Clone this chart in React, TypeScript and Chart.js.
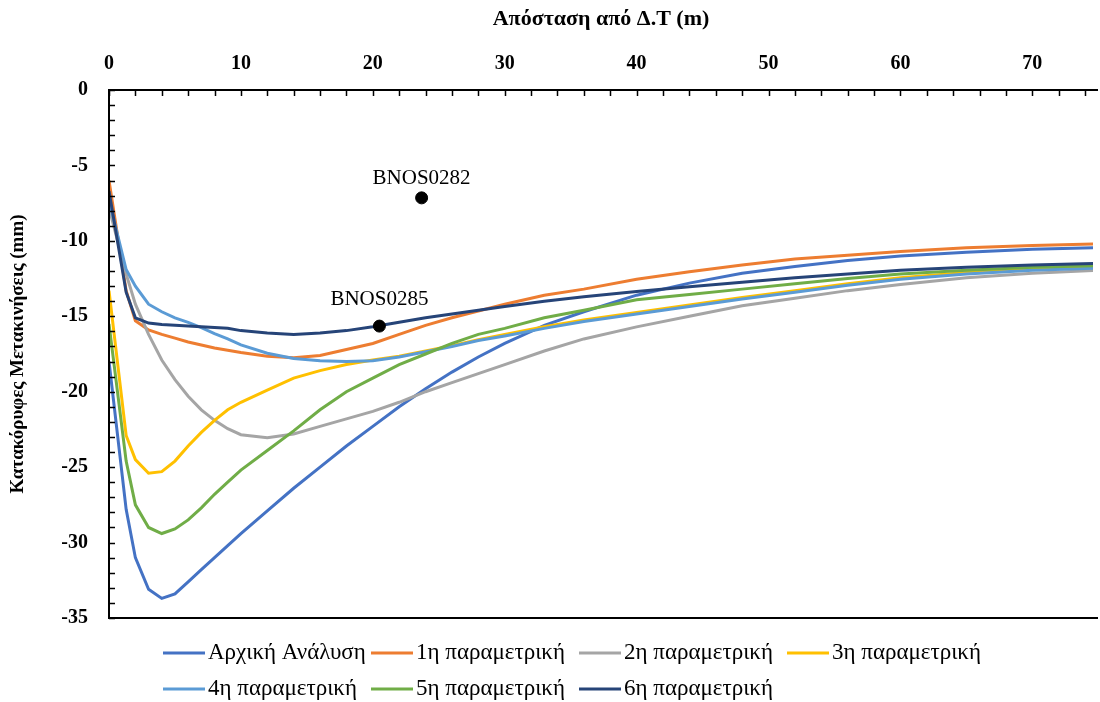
import { useEffect, useRef } from 'react';
import { Chart, registerables } from 'chart.js';

Chart.register(...registerables);

// Distance from Δ.Τ (m)
const DISTANCE = [0, 1.3, 2, 3, 4, 5, 6, 7, 8, 9, 10, 12, 14, 16, 18, 20, 22, 24, 26, 28, 30, 33, 36, 40, 44, 48, 52, 56, 60, 65, 70, 75];

// Vertical displacements (mm)
const ARXIKI = [-18.0, -27.8, -31.0, -33.1, -33.7, -33.4, -32.6, -31.8, -31.0, -30.2, -29.4, -27.9, -26.4, -25.0, -23.6, -22.3, -21.0, -19.8, -18.7, -17.7, -16.8, -15.6, -14.7, -13.6, -12.8, -12.15, -11.7, -11.3, -11.0, -10.75, -10.55, -10.45];
const PARAM_1 = [-6.0, -13.3, -15.3, -15.9, -16.2, -16.45, -16.7, -16.9, -17.1, -17.25, -17.4, -17.65, -17.75, -17.6, -17.2, -16.8, -16.2, -15.6, -15.1, -14.65, -14.2, -13.6, -13.2, -12.55, -12.05, -11.6, -11.2, -10.95, -10.7, -10.45, -10.3, -10.2];
const PARAM_2 = [-7.8, -12.2, -14.2, -16.2, -17.9, -19.2, -20.3, -21.2, -21.9, -22.45, -22.85, -23.05, -22.8, -22.3, -21.8, -21.3, -20.7, -20.0, -19.4, -18.8, -18.2, -17.3, -16.5, -15.7, -15.0, -14.3, -13.8, -13.3, -12.9, -12.45, -12.15, -11.95];
const PARAM_3 = [-13.3, -22.9, -24.5, -25.4, -25.3, -24.6, -23.6, -22.7, -21.9, -21.2, -20.7, -19.9, -19.1, -18.6, -18.2, -17.9, -17.65, -17.3, -16.95, -16.55, -16.2, -15.7, -15.25, -14.75, -14.25, -13.75, -13.3, -12.85, -12.45, -12.1, -11.85, -11.7];
const PARAM_4 = [-7.3, -11.9, -13.0, -14.2, -14.7, -15.1, -15.4, -15.75, -16.15, -16.5, -16.9, -17.45, -17.8, -17.95, -18.0, -17.95, -17.7, -17.35, -17.0, -16.6, -16.3, -15.8, -15.35, -14.85, -14.35, -13.85, -13.4, -12.95, -12.55, -12.2, -11.95, -11.8];
const PARAM_5 = [-15.5, -24.6, -27.5, -29.0, -29.4, -29.1, -28.5, -27.7, -26.8, -26.0, -25.2, -23.9, -22.6, -21.2, -20.0, -19.1, -18.2, -17.5, -16.8, -16.2, -15.8, -15.1, -14.6, -13.9, -13.55, -13.2, -12.85, -12.5, -12.2, -11.95, -11.75, -11.65];
const PARAM_6 = [-6.7, -13.4, -15.1, -15.45, -15.55, -15.6, -15.65, -15.7, -15.75, -15.8, -15.95, -16.1, -16.2, -16.1, -15.95, -15.7, -15.4, -15.1, -14.85, -14.6, -14.35, -14.0, -13.7, -13.35, -13.05, -12.75, -12.45, -12.2, -11.95, -11.75, -11.6, -11.5];

const SERIES = [ARXIKI, PARAM_1, PARAM_2, PARAM_3, PARAM_4, PARAM_5, PARAM_6];
const SERIES_NAMES = ['Αρχική Ανάλυση', '1η παραμετρική', '2η παραμετρική', '3η παραμετρική', '4η παραμετρική', '5η παραμετρική', '6η παραμετρική'];
const COLORS = ['#4472C4', '#ED7D31', '#A5A5A5', '#FFC000', '#5B9BD5', '#70AD47', '#264478'];

// Measurement points
const MARKER_NAMES = ['BNOS0282', 'BNOS0285'];
const MARKER_X = [23.7, 20.5];
const MARKER_Y = [-7.15, -15.65];

const X_TICK_STEP = 10;
const Y_TICK_STEP = 5;

const FONT = "'Liberation Serif', 'Times New Roman', serif";

const decorPlugin = {
  id: 'decor',
  afterDatasetsDraw(chart: any) {
    const { ctx, chartArea: a, scales } = chart;
    const xs = scales.x;
    const ys = scales.y;
    ctx.save();
    // axis frame (top, left, bottom)
    ctx.strokeStyle = '#000';
    ctx.lineWidth = 2;
    ctx.beginPath();
    ctx.moveTo(a.right + 5, a.top);
    ctx.lineTo(a.left, a.top);
    ctx.lineTo(a.left, a.bottom);
    ctx.lineTo(a.right + 5, a.bottom);
    ctx.stroke();
    // inward tick marks
    ctx.lineWidth = 1.5;
    ctx.beginPath();
    for (let v = 0; v <= xs.max; v += 2) {
      const px = Math.round(xs.getPixelForValue(v)) + 0.5;
      ctx.moveTo(px, a.top);
      ctx.lineTo(px, a.top + 6);
    }
    for (let v = 0; v >= ys.min; v -= 1) {
      const py = Math.round(ys.getPixelForValue(v)) + 0.5;
      ctx.moveTo(a.left, py);
      ctx.lineTo(a.left + 6, py);
    }
    ctx.stroke();

    // marker labels
    ctx.fillStyle = '#000';
    ctx.font = `21px ${FONT}`;
    ctx.textAlign = 'center';
    ctx.textBaseline = 'middle';
    const offsets = [19, 27];
    MARKER_NAMES.forEach((name, i) => {
      const px = xs.getPixelForValue(MARKER_X[i]);
      const py = ys.getPixelForValue(MARKER_Y[i]);
      ctx.fillText(name, px, py - offsets[i]);
    });

    // legend (Excel-style grid, left aligned rows)
    ctx.textAlign = 'left';
    ctx.font = `23px ${FONT}`;
    SERIES_NAMES.forEach((name, i) => {
      const col = i % 4;
      const row = Math.floor(i / 4);
      const x0 = 163 + col * 208;
      const y0 = a.bottom + 35 + row * 36;
      ctx.strokeStyle = COLORS[i];
      ctx.lineWidth = 3;
      ctx.beginPath();
      ctx.moveTo(x0, y0);
      ctx.lineTo(x0 + 42, y0);
      ctx.stroke();
      ctx.fillStyle = '#000';
      ctx.fillText(name, x0 + 45, y0);
    });
    ctx.restore();
  },
};

export default function App() {
  const ref = useRef<HTMLCanvasElement | null>(null);

  useEffect(() => {
    document.body.style.margin = '0';
    const canvas = ref.current;
    if (!canvas) return;

    const lineSets = SERIES.map((s, i) => ({
      type: 'line' as const,
      label: SERIES_NAMES[i],
      data: DISTANCE.map((x, k) => ({ x, y: s[k] })),
      borderColor: COLORS[i],
      backgroundColor: COLORS[i],
      borderWidth: 3,
      pointRadius: 0,
      tension: 0,
      fill: false,
      order: 10 - i,
    }));

    const markerSet = {
      type: 'scatter' as const,
      label: 'markers',
      data: MARKER_X.map((x, i) => ({ x, y: MARKER_Y[i] })),
      backgroundColor: '#000',
      borderColor: '#000',
      pointRadius: 6,
      showLine: false,
      order: 0,
    };

    const chart = new Chart(canvas, {
      type: 'line',
      data: { datasets: [...lineSets, markerSet] as any },
      options: {
        responsive: false,
        animation: false,
        devicePixelRatio: 1,
        events: [],
        layout: { padding: { left: 0, right: 0, top: 0, bottom: 84 } },
        plugins: {
          legend: { display: false },
          tooltip: { enabled: false },
        },
        scales: {
          x: {
            type: 'linear',
            position: 'top',
            min: 0,
            max: 74.6,
            ticks: {
              stepSize: X_TICK_STEP,
              includeBounds: false,
              autoSkip: false,
              maxRotation: 0,
              padding: 14,
              color: '#000',
              font: { family: FONT, size: 20, weight: 'bold' },
            },
            grid: { display: false, drawTicks: false },
            border: { display: false },
            title: {
              display: true,
              text: 'Απόσταση από Δ.Τ (m)',
              color: '#000',
              font: { family: FONT, size: 22, weight: 'bold' },
              padding: { top: 6, bottom: 0 },
            },
            afterFit(scale: any) {
              scale.height = 90;
            },
          },
          y: {
            type: 'linear',
            min: -35,
            max: 0,
            ticks: {
              stepSize: Y_TICK_STEP,
              padding: 21,
              color: '#000',
              font: { family: FONT, size: 20, weight: 'bold' },
            },
            grid: { display: false, drawTicks: false },
            border: { display: false },
            title: {
              display: true,
              text: 'Κατακόρυφες Μετακινήσεις (mm)',
              color: '#000',
              font: { family: FONT, size: 19, weight: 'bold' },
              padding: { top: 7, bottom: 0 },
            },
            afterFit(scale: any) {
              scale.width = 109;
            },
          },
        },
      } as any,
      plugins: [decorPlugin],
    });

    return () => chart.destroy();
  }, []);

  return (
    <div style={{ width: 1100, height: 702, position: 'relative' }}>
      <canvas ref={ref} width={1100} height={702} style={{ display: 'block' }} />
    </div>
  );
}
